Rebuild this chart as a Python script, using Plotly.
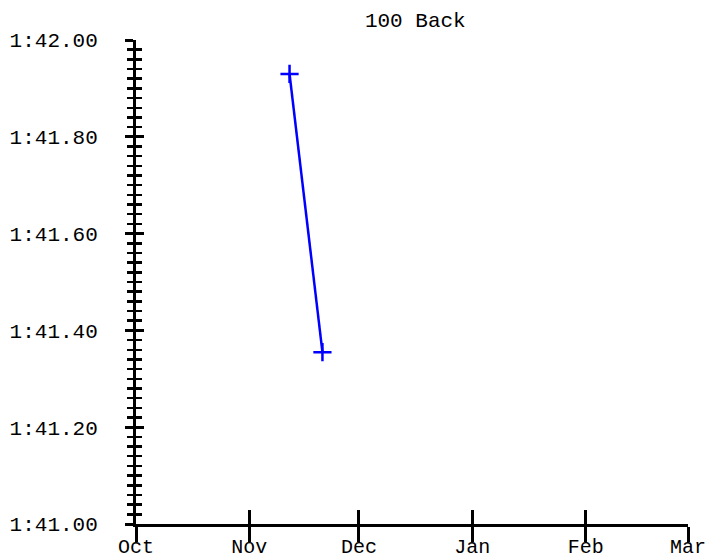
import plotly.graph_objects as go

# Data
dates = ["2009-11-12", "2009-11-21"]
times_sec = [101.93, 101.355]  # seconds (1:41.93, 1:41.36)

y_tickvals = [101.0, 101.2, 101.4, 101.6, 101.8, 102.0]
y_ticktext = ["1:41.00", "1:41.20", "1:41.40", "1:41.60", "1:41.80", "1:42.00"]
x_tickvals = ["2009-10-01", "2009-11-01", "2009-12-01", "2010-01-01", "2010-02-01", "2010-03-01"]
x_ticktext = ["Oct", "Nov", "Dec", "Jan", "Feb", "Mar"]
x_range = ["2009-10-01", "2010-03-01"]
y_range = [101.0, 102.0]

FONT = "Courier New, Liberation Mono, monospace"
BLUE = "#0000ff"
FS = 21

fig = go.Figure()
fig.add_trace(go.Scatter(
    x=dates, y=times_sec, mode="lines+markers",
    line=dict(color=BLUE, width=2.5),
    marker=dict(symbol="cross-thin", size=13, color=BLUE, line=dict(color=BLUE, width=2.5)),
    showlegend=False, hoverinfo="skip",
))
# invisible trace to make the overlay axes active
fig.add_trace(go.Scatter(x=[x_range[0]], y=[y_range[0]], xaxis="x2", yaxis="y2",
                         mode="markers", marker=dict(opacity=0), showlegend=False, hoverinfo="skip"))

common_x = dict(type="date", range=x_range, tickmode="array", tickvals=x_tickvals,
                showgrid=False, zeroline=False, tickcolor="black", tickwidth=3, automargin=False)
common_y = dict(range=y_range, tickmode="array", tickvals=y_tickvals,
                showgrid=False, zeroline=False, tickcolor="black", tickwidth=3, automargin=False)

W, H = 708, 558
fig.update_layout(
    width=W, height=H,
    margin=dict(l=136, r=20, t=40, b=34, pad=0),
    paper_bgcolor="white", plot_bgcolor="white",
    font=dict(family=FONT, size=FS, color="black"),
    title=dict(text="100 Back", x=0.506, xref="paper", xanchor="center",
               y=1 - 20 / H, yanchor="middle", yref="container",
               font=dict(family=FONT, size=FS, color="black")),
    xaxis=dict(**common_x, ticktext=x_ticktext, ticks="outside", ticklen=15,
               showline=True, linecolor="black", linewidth=3,
               ticklabelstandoff=-13,
               tickfont=dict(family=FONT, size=20, color="black")),
    xaxis2=dict(**common_x, overlaying="x", anchor="y", side="bottom",
                ticks="inside", ticklen=14, showticklabels=False, showline=False),
    yaxis=dict(**common_y, ticktext=y_ticktext, ticks="outside", ticklen=8,
               showline=True, linecolor="black", linewidth=3,
               ticklabelstandoff=23,
               tickfont=dict(family=FONT, size=FS, color="black"),
               minor=dict(tickmode="linear", tick0=101.0, dtick=0.02, ticks="outside",
                          ticklen=6, tickwidth=2.5, tickcolor="black", showgrid=False)),
    yaxis2=dict(**common_y, overlaying="y", anchor="x", side="left",
                ticks="inside", ticklen=8, showticklabels=False, showline=False,
                minor=dict(tickmode="linear", tick0=101.0, dtick=0.02, ticks="inside",
                           ticklen=6, tickwidth=2.5, tickcolor="black", showgrid=False)),
)

fig.write_html("out.html",
               config={"displayModeBar": False, "staticPlot": True},
               post_script="document.body.style.margin='0';document.body.style.overflow='hidden';")
